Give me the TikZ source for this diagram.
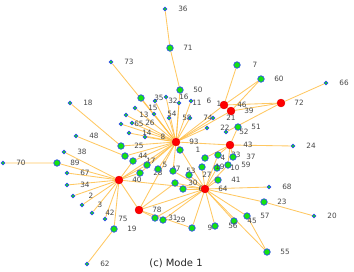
\documentclass[tikz,border=0pt]{standalone}
\usepackage{fontspec}
\setmainfont{DejaVu Sans}
\usepackage{xcolor}
\usepackage{tikz}
\usetikzlibrary{backgrounds}

\definecolor{edgeorange}{RGB}{255,190,70}
\definecolor{nodegreen}{RGB}{20,225,20}
\definecolor{nodeblue}{RGB}{50,80,235}

\begin{document}
\begin{tikzpicture}[
			x=1pt, y=-1pt,
			every node/.style={inner sep=0pt},
			lb/.style={font=\fontsize{7.3}{7.3}\selectfont, text=black!72, xshift=18pt},
			hub/.style={circle, fill=red, draw=red!85!black, line width=0.3pt, minimum size=8pt},
			big/.style={circle, fill=nodegreen, draw=nodeblue, line width=0.7pt, minimum size=6.5pt},
			sm/.style={circle, fill=nodegreen, draw=nodeblue, line width=0.8pt, minimum size=3.8pt},
			link/.style={draw=edgeorange, line width=0.85pt, opacity=0.85},
			]
			\useasboundingbox (0,0) rectangle (354,271);
			
			% small nodes
			\node[sm, label={[lb]center:36}] (n36) at (165,9) {};
			\node[sm, label={[lb]center:73}] (n73) at (111,62) {};
			\node[sm, label={[lb]center:66}] (n66) at (326,83) {};
			\node[sm, label={[lb]center:18}] (n18) at (70,103) {};
			\node[sm, label={[lb]center:16}] (n16) at (166,97) {};
			\node[sm, label={[lb]center:32}] (n32) at (155,101) {};
			\node[sm, label={[lb]center:11}] (n11) at (179,103) {};
			\node[sm, label={[lb]center:6}] (n6a) at (191,101) {};
			\node[sm, label={[lb]center:15}] (n15) at (135,108) {};
			\node[sm, label={[lb]center:13}] (n13) at (126,115) {};
			\node[sm, label={[lb]center:54}] (n54) at (154,114) {};
			\node[sm, label={[lb]center:58}] (n58) at (169,118) {};
			\node[sm, label={[lb]center:74}] (n74) at (190,118) {};
			\node[sm, label={[lb]center:21}] (n21) at (213,118) {};
			\node[sm, label={[lb]center:26}] (n26) at (132,123) {};
			\node[sm, label={[lb]center:65}] (n65) at (121,124) {};
			\node[sm, label={[lb]center:22}] (n22) at (207,128) {};
			\node[sm, label={[lb]center:14}] (n14) at (129,133) {};
			\node[sm, label={[lb]center:8}] (n8) at (145,137) {};
			\node[sm, label={[lb]center:48}] (n48) at (76,136) {};
			\node[sm, label={[lb]center:24}] (n24) at (293,146) {};
			\node[sm, label={[lb]center:38}] (n38) at (64,152) {};
			\node[sm, label={[lb]center:70}] (n70) at (3,163) {};
			\node[sm, label={[lb]center:67}] (n67) at (67,173) {};
			\node[sm, label={[lb]center:34}] (n34) at (67,185) {};
			\node[sm, label={[lb]center:68}] (n68) at (269,187) {};
			\node[sm, label={[lb]center:2}] (n2) at (73,196) {};
			\node[sm, label={[lb]center:3}] (n3) at (82,205) {};
			\node[sm, label={[lb]center:42}] (n42) at (92,213) {};
			\node[sm, label={[lb]center:75}] (n75) at (105,219) {};
			\node[sm, label={[lb]center:20}] (n20) at (314,216) {};
			\node[sm, label={[lb]center:62}] (n62) at (87,264) {};
			
			% larger nodes
			\node[big, label={[lb]center:71}] (n71) at (170,48) {};
			\node[big, label={[lb]center:7}] (n7) at (237,65) {};
			\node[big, label={[lb]center:60}] (n60) at (261,79) {};
			\node[big, label={[lb]center:50}] (n50) at (180,90) {};
			\node[big, label={[lb]center:35}] (n35) at (141,98) {};
			\node[big, label={[lb]center:51}] (n51) at (238,127) {};
			\node[sm, label={[lb]center:52}] (n52) at (226,132) {};
			\node[big, label={[lb]center:25}] (n25) at (121,146) {};
			\node[big, label={[lb]center:89}] (n89) at (57,163) {};
			\node[big, label={[lb]center:44}] (n44) at (125,156) {};
			\node[big, label={[lb]center:17}] (n17) at (133,161) {};
			\node[big, label={[lb]center:5}] (n5) at (147,165) {};
			\node[big, label={[lb]center:28}] (n28) at (140,173) {};
			\node[big, label={[lb]center:47}] (n47) at (158,169) {};
			\node[big, label={[lb]center:53}] (n53) at (173,171) {};
			\node[big, label={[lb]center:1}] (n1) at (180,150) {};
			\node[big, label={[lb]center:4}] (n4) at (205,158) {};
			\node[big, label={[lb]center:33}] (n33) at (218,155) {};
			\node[big, label={[lb]center:37}] (n37) at (233,157) {};
			\node[big, label={[lb]center:59}] (n59) at (228,165) {};
			\node[big, label={[lb]center:10}] (n10) at (217,168) {};
			\node[big, label={[lb]center:19}] (n19a) at (202,167) {};
			\node[big, label={[lb]center:27}] (n27) at (189,175) {};
			\node[big, label={[lb]center:41}] (n41) at (218,180) {};
			\node[big, label={[lb]center:30}] (n30) at (175,183) {};
			\node[big, label={[lb]center:6}] (n6b) at (183,189) {};
			\node[big, label={[lb]center:23}] (n23) at (264,202) {};
			\node[big, label={[lb]center:57}] (n57) at (247,216) {};
			\node[big, label={[lb]center:45}] (n45) at (234,221) {};
			\node[big, label={[lb]center:55}] (n55) at (267,252) {};
			\node[big, label={[lb]center:56}] (n56) at (215,226) {};
			\node[big, label={[lb]center:9}] (n9) at (192,228) {};
			\node[big, label={[lb]center:31}] (n31) at (155,218) {};
			\node[big, label={[lb]center:29}] (n29) at (163,220) {};
			\node[big, label={[lb]center:19}] (n19b) at (114,229) {};
			
			% hubs
			\node[lb, xshift=-18pt] (lone1) at (219,104) {1};
			\node[hub, label={[lb]center:93}] (h93) at (176,142) {};
			\node[hub, label={[lb]center:40}] (h40) at (119,180) {};
			\node[hub, label={[lb]center:64}] (h64) at (205,189) {};
			\node[hub, label={[lb]center:78}] (h78) at (139,210) {};
			\node[hub, label={[lb]center:43}] (h43) at (230,145) {};
			\node[hub, label={[lb]center:46}] (h46) at (224,105) {};
			\node[hub, label={[lb]center:39}] (h39) at (231,111) {};
			\node[hub, label={[lb]center:72}] (h72) at (281,103) {};
			
			\node[font=\fontsize{10}{11}\selectfont, text=black!85] (cap) at (176,263) {(c) Mode 1};
			
			\begin{scope}[on background layer]
				% chain at the top
				\draw[link] (n36) -- (n71) -- (n50) -- (h93);
				% leaves of 93
				\draw[link] (n73) -- (h93);
				\draw[link] (n35) -- (h93);
				\draw[link] (n16) -- (h93);
				\draw[link] (n32) -- (h93);
				\draw[link] (n11) -- (h93);
				\draw[link] (n6a) -- (h93);
				\draw[link] (n15) -- (h93);
				\draw[link] (n13) -- (h93);
				\draw[link] (n54) -- (h93);
				\draw[link] (n58) -- (h93);
				\draw[link] (n74) -- (h93);
				\draw[link] (n26) -- (h93);
				\draw[link] (n65) -- (h93);
				\draw[link] (n14) -- (h93);
				\draw[link] (n8) -- (h93);
				\draw[link] (n18) -- (n25) -- (h93);
				\draw[link] (n48) -- (n44) -- (h93);
				\draw[link] (n17) -- (h93);
				\draw[link] (n5) -- (h93);
				\draw[link] (n28) -- (h93);
				\draw[link] (n47) -- (h93);
				\draw[link] (n1) -- (h93);
				\draw[link] (n21) -- (h93);
				\draw[link] (n22) -- (h93);
				\draw[link] (n53) -- (h93);
				% hub links
				\draw[link] (h93) -- (h46);
				\draw[link] (h93) -- (h39);
				\draw[link] (h93) -- (h43);
				\draw[link] (h93) -- (h64);
				\draw[link] (h93) -- (h40);
				\draw[link] (h93) -- (h78);
				\draw[link] (h46) -- (h39);
				\draw[link] (h46) -- (h72);
				\draw[link] (h39) -- (h72);
				\draw[link] (h40) -- (h78);
				\draw[link] (h40) -- (h64);
				\draw[link] (h78) -- (h64);
				% upper right
				\draw[link] (n7) -- (h46);
				\draw[link] (n60) -- (h46);
				\draw[link] (n60) -- (h39);
				\draw[link] (n66) -- (h72);
				\draw[link] (n52) -- (h72);
				\draw[link] (n51) -- (h43);
				% leaves of 43
				\draw[link] (h43) -- (n24);
				\draw[link] (h43) -- (n4);
				\draw[link] (h43) -- (n33);
				\draw[link] (h43) -- (n37);
				\draw[link] (h43) -- (n59);
				% leaves of 64
				\draw[link] (h64) -- (n59);
				\draw[link] (h64) -- (n10);
				\draw[link] (h64) -- (n19a);
				\draw[link] (h64) -- (n27);
				\draw[link] (h64) -- (n53);
				\draw[link] (h64) -- (n41);
				\draw[link] (h64) -- (n30);
				\draw[link] (h64) -- (n6b);
				\draw[link] (h64) -- (n68);
				\draw[link] (h64) -- (n23) -- (n20);
				\draw[link] (h64) -- (n57) -- (n55);
				\draw[link] (h64) -- (n45);
				\draw[link] (h64) -- (n55);
				\draw[link] (h64) -- (n56);
				\draw[link] (h64) -- (n9);
				\draw[link] (h64) -- (n29);
				\draw[link] (h64) -- (n31);
				\draw[link] (h64) -- (n33);
				% leaves of 78
				\draw[link] (h78) -- (n31);
				\draw[link] (h78) -- (n9);
				\draw[link] (h78) -- (n30);
				% leaves of 40
				\draw[link] (n70) -- (n89) -- (h40);
				\draw[link] (n38) -- (h40);
				\draw[link] (n67) -- (h40);
				\draw[link] (n34) -- (h40);
				\draw[link] (n2) -- (h40);
				\draw[link] (n3) -- (h40);
				\draw[link] (n42) -- (h40);
				\draw[link] (n75) -- (h40);
				\draw[link] (n62) -- (n19b) -- (h40);
				\draw[link] (h40) -- (n17);
				\draw[link] (h40) -- (n5);
				\draw[link] (h40) -- (n28);
			\end{scope}
			
		\end{tikzpicture}
\end{document}
